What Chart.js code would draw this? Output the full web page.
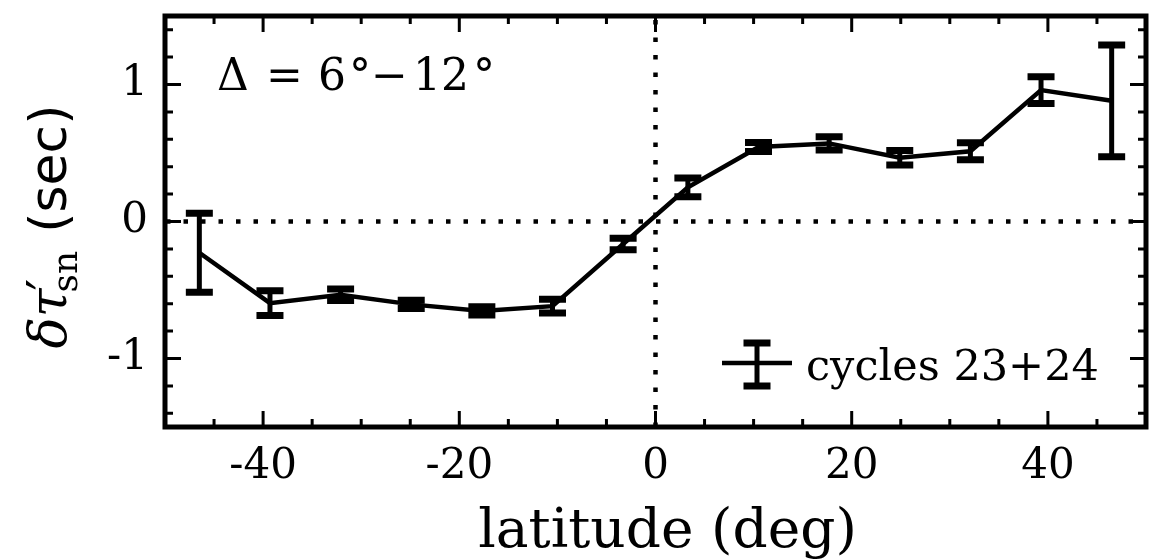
<!DOCTYPE html>
<html><head><meta charset="utf-8">
<script src="https://cdn.jsdelivr.net/npm/chart.js@4.4.0/dist/chart.umd.min.js"></script>
<style>html,body{margin:0;padding:0;background:#fff;}canvas{display:block}</style>
</head><body>
<canvas id="c" width="1157" height="560"></canvas>
<script>
// ---- data ----
const latitudes   = [-46.5, -39.3, -32.1, -24.9, -17.7, -10.5, -3.3, 3.3, 10.5, 17.7, 24.9, 32.1, 39.3, 46.5];
const delayValues = [-0.228, -0.596, -0.535, -0.605, -0.653, -0.618, -0.164, 0.249, 0.544, 0.570, 0.466, 0.513, 0.959, 0.881];
const delayErrors = [0.289, 0.091, 0.042, 0.030, 0.030, 0.050, 0.042, 0.069, 0.033, 0.049, 0.053, 0.062, 0.097, 0.408];
const xMajorTicks = [-40, -20, 0, 20, 40];
const xTickLabels = ['-40', '-20', '0', '20', '40'];
const xMinorTicks = [-45, -35, -30, -25, -15, -10, -5, 5, 10, 15, 25, 30, 35, 45];
const yMajorTicks = [-1, 0, 1];
const yTickLabels = ['-1', '0', '1'];
const yMinorTicks = [-1.4, -1.2, -0.8, -0.6, -0.4, -0.2, 0.2, 0.4, 0.6, 0.8, 1.2, 1.4];
const seriesLabel = 'cycles 23+24';
const xTitle = 'latitude (deg)';
const yTitleParts = { delta: 'δ', tau: 'τ', prime: '′', sub: 'sn', unit: '(sec)' };
const annotationParts = ['Δ', '=', '6', '°', '−', '12', '°'];

const SERIF = '"DejaVu Serif"';
const SANS = '"DejaVu Sans"';

function drawAt(ctx, text, inkLeft, baseline) {
  const m = ctx.measureText(text);
  ctx.fillText(text, inkLeft + m.actualBoundingBoxLeft, baseline);
}

const decorPlugin = {
  id: 'decor',
  beforeDraw(chart) {
    // nudge the native x-axis title slightly right, as in the original figure
    const s = chart.scales.x;
    if (s && !s._nudged) {
      const orig = s.drawTitle.bind(s);
      s.drawTitle = function () {
        const c = this.ctx; c.save(); c.translate(12, 0); orig(); c.restore();
      };
      s._nudged = true;
    }
  },
  beforeDatasetsDraw(chart) {
    const {ctx, chartArea: a, scales: {x, y}} = chart;
    ctx.save();
    ctx.strokeStyle = '#000';
    ctx.lineWidth = 4.5;
    ctx.lineCap = 'butt';
    ctx.setLineDash([4.5, 13]);
    const y0 = y.getPixelForValue(0);
    ctx.lineDashOffset = -1;
    ctx.beginPath(); ctx.moveTo(a.left, y0); ctx.lineTo(a.right, y0); ctx.stroke();
    const x0 = x.getPixelForValue(0);
    ctx.lineDashOffset = 0;
    ctx.beginPath(); ctx.moveTo(x0, a.bottom); ctx.lineTo(x0, a.top); ctx.stroke();
    ctx.restore();
  },
  afterDatasetsDraw(chart) {
    const {ctx, chartArea: a, scales: {x, y}} = chart;
    ctx.save();
    ctx.strokeStyle = '#000';
    ctx.fillStyle = '#000';
    ctx.setLineDash([]);
    // error bars
    const capHalf = 13.5;
    latitudes.forEach((lat, i) => {
      const px = x.getPixelForValue(lat);
      const pTop = y.getPixelForValue(delayValues[i] + delayErrors[i]);
      const pBot = y.getPixelForValue(delayValues[i] - delayErrors[i]);
      ctx.lineWidth = 5;
      ctx.beginPath(); ctx.moveTo(px, pTop); ctx.lineTo(px, pBot); ctx.stroke();
      ctx.lineWidth = 7;
      ctx.beginPath();
      ctx.moveTo(px - capHalf, pTop); ctx.lineTo(px + capHalf, pTop);
      ctx.moveTo(px - capHalf, pBot); ctx.lineTo(px + capHalf, pBot);
      ctx.stroke();
    });
    // ticks (inward, all four sides)
    const tick = (len, w, list, horiz) => {
      ctx.lineWidth = w;
      ctx.beginPath();
      list.forEach(v => {
        if (horiz) {
          const p = x.getPixelForValue(v);
          ctx.moveTo(p, a.bottom); ctx.lineTo(p, a.bottom - len);
          ctx.moveTo(p, a.top); ctx.lineTo(p, a.top + len);
        } else {
          const p = y.getPixelForValue(v);
          ctx.moveTo(a.left, p); ctx.lineTo(a.left + len, p);
          ctx.moveTo(a.right, p); ctx.lineTo(a.right - len, p);
        }
      });
      ctx.stroke();
    };
    tick(16, 3, xMajorTicks, true);
    tick(8, 3, xMinorTicks, true);
    tick(16, 3, yMajorTicks, false);
    tick(8, 3, yMinorTicks, false);
    // frame
    ctx.lineWidth = 5;
    ctx.strokeRect(a.left, a.top, a.right - a.left, a.bottom - a.top);

    // annotation  Δ = 6° − 12°
    ctx.font = '44px ' + SERIF;
    ctx.textBaseline = 'alphabetic';
    ctx.textAlign = 'left';
    const annBase = a.top + 74;
    const annX = [53, 105, 155, 188, 210, 253, 312];
    annotationParts.forEach((t, i) => drawAt(ctx, t, a.left + annX[i], annBase));

    // legend
    const lx0 = a.right - 424, lx1 = a.right - 354, ly = a.bottom - 64;
    const lmx = (lx0 + lx1) / 2;
    ctx.lineWidth = 4.5;
    ctx.beginPath(); ctx.moveTo(lx0, ly); ctx.lineTo(lx1, ly); ctx.stroke();
    ctx.lineWidth = 5;
    ctx.beginPath(); ctx.moveTo(lmx, ly - 20); ctx.lineTo(lmx, ly + 23); ctx.stroke();
    ctx.lineWidth = 7;
    ctx.beginPath();
    ctx.moveTo(lmx - capHalf, ly - 20); ctx.lineTo(lmx + capHalf, ly - 20);
    ctx.moveTo(lmx - capHalf, ly + 23); ctx.lineTo(lmx + capHalf, ly + 23);
    ctx.stroke();
    ctx.font = '43px ' + SERIF;
    drawAt(ctx, seriesLabel, a.right - 338, a.bottom - 47);

    // y-axis title (rotated, mixed fonts)
    const fMain = 'italic 52px ' + SERIF, fScript = '36px ' + SERIF,
          fPrime = '52px ' + SERIF, fUnit = '52px ' + SANS;
    ctx.font = fMain;
    const wd = ctx.measureText(yTitleParts.delta).width;
    const wt = ctx.measureText(yTitleParts.tau).width;
    ctx.font = fScript;
    const ws = ctx.measureText(yTitleParts.sub).width;
    ctx.font = fPrime;
    const wp = ctx.measureText(yTitleParts.prime).width;
    ctx.font = fUnit;
    const wu = ctx.measureText(yTitleParts.unit).width;
    const gap = 14;
    const total = wd + wt + Math.max(ws, wp) + gap + wu;
    const cy = (a.top + a.bottom) / 2 + 5;
    ctx.translate(66, cy);
    ctx.rotate(-Math.PI / 2);
    let cx = -total / 2;
    ctx.font = fMain;
    ctx.fillText(yTitleParts.delta, cx, 0); cx += wd;
    ctx.fillText(yTitleParts.tau, cx, 0); cx += wt;
    ctx.font = fPrime;
    ctx.fillText(yTitleParts.prime, cx - 2, -2);
    ctx.font = fScript;
    ctx.fillText(yTitleParts.sub, cx - 4, 11);
    cx += Math.max(ws, wp) + gap;
    ctx.font = fUnit;
    ctx.fillText(yTitleParts.unit, cx, 0);
    ctx.restore();
  }
};

new Chart(document.getElementById('c'), {
  type: 'line',
  data: {
    datasets: [{
      label: seriesLabel,
      data: latitudes.map((lat, i) => ({x: lat, y: delayValues[i]})),
      borderColor: '#000',
      backgroundColor: '#000',
      borderWidth: 4.5,
      pointRadius: 0,
      tension: 0,
      fill: false
    }]
  },
  options: {
    responsive: false,
    animation: false,
    devicePixelRatio: 1,
    layout: {padding: {top: 16, right: 11, bottom: 0, left: 0}},
    plugins: {legend: {display: false}, tooltip: {enabled: false}},
    scales: {
      x: {
        type: 'linear', min: -50, max: 50,
        grid: {display: false, drawTicks: false},
        border: {display: false},
        afterBuildTicks: s => { s.ticks = xMajorTicks.map(v => ({value: v})); },
        ticks: {
          callback: (v, i) => xTickLabels[i],
          font: {family: SERIF, size: 42}, color: '#000',
          padding: 15, maxRotation: 0, autoSkip: false
        },
        title: {display: true, text: xTitle, color: '#000',
          font: {family: SERIF, size: 55, lineHeight: 1}, padding: {top: 0, bottom: 0}},
        afterFit: s => { s.height = 133; s.paddingLeft = 0; s.paddingRight = 0; }
      },
      y: {
        type: 'linear', min: -1.5, max: 1.5,
        grid: {display: false, drawTicks: false},
        border: {display: false},
        afterBuildTicks: s => { s.ticks = yMajorTicks.map(v => ({value: v})); },
        ticks: {
          callback: (v, i) => yTickLabels[i],
          font: {family: SERIF, size: 42}, color: '#000',
          padding: 17, autoSkip: false
        },
        afterFit: s => { s.width = 165; s.paddingTop = 0; s.paddingBottom = 0; }
      }
    }
  },
  plugins: [decorPlugin]
});
</script>
</body></html>
